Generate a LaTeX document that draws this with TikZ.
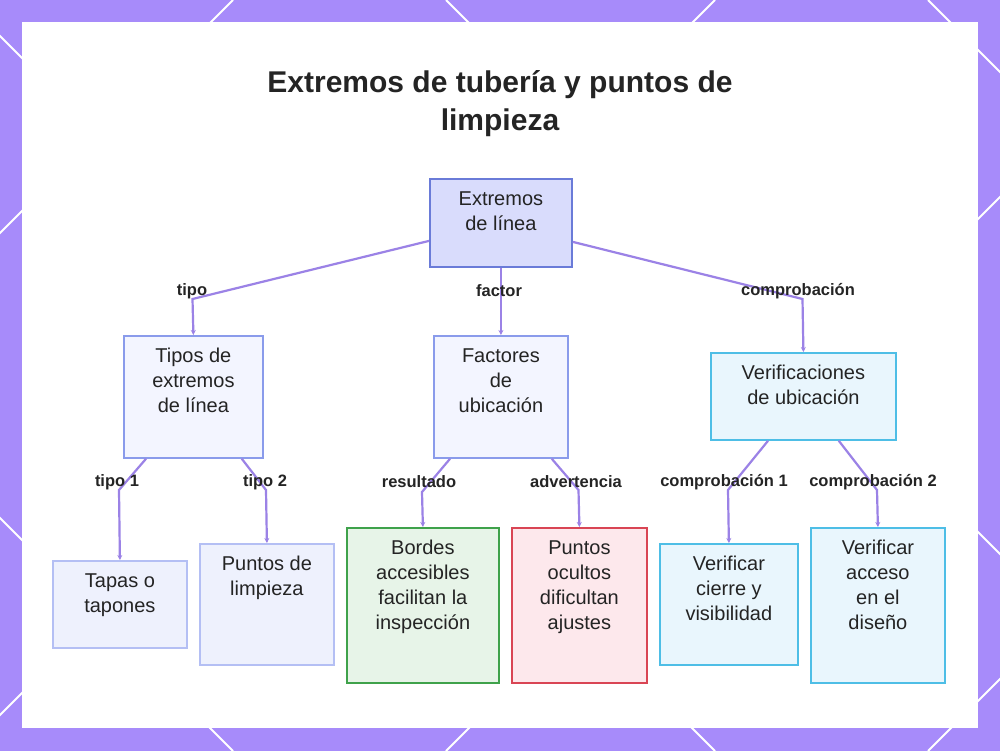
\documentclass[tikz,border=0pt]{standalone}
\usepackage{fontspec}
\setmainfont{Liberation Sans}
\usetikzlibrary{arrows.meta}
\definecolor{bgpurple}{HTML}{A78BFA}
\definecolor{edgec}{HTML}{9B82E6}
\definecolor{txt}{HTML}{242424}
\definecolor{rootfill}{HTML}{D9DCFC}
\definecolor{rootdraw}{HTML}{6A7BD8}
\definecolor{midfill}{HTML}{F3F5FF}
\definecolor{middraw}{HTML}{8A9BEB}
\definecolor{lowfill}{HTML}{EEF1FD}
\definecolor{lowdraw}{HTML}{B4BFF4}
\definecolor{cyfill}{HTML}{E9F6FD}
\definecolor{cydraw}{HTML}{4EBEE6}
\definecolor{grfill}{HTML}{E7F4E8}
\definecolor{grdraw}{HTML}{3FA24B}
\definecolor{rdfill}{HTML}{FDE8EC}
\definecolor{rddraw}{HTML}{D94554}
\newcommand{\bx}[7]{\node[#6, anchor=north west, inner sep=0pt] (#1) at (#2,#3) {\parbox[c][\dimexpr#5pt-#3pt\relax][t]{\dimexpr#4pt-#2pt\relax}{\centering\rule{0pt}{26.5pt}#7}};}
\tikzset{
  boxbase/.style={draw, line width=1.8pt, text=txt, font=\fontsize{20}{25}\selectfont},
  rootbox/.style={boxbase, fill=rootfill, draw=rootdraw},
  midbox/.style={boxbase, fill=midfill, draw=middraw},
  lowbox/.style={boxbase, fill=lowfill, draw=lowdraw},
  cybox/.style={boxbase, fill=cyfill, draw=cydraw},
  grbox/.style={boxbase, fill=grfill, draw=grdraw},
  rdbox/.style={boxbase, fill=rdfill, draw=rddraw},
  edge/.style={draw=edgec, line width=2.2pt, -{Stealth[length=5pt,width=5pt]}},
  elabel/.style={font=\bfseries\fontsize{16.5}{19}\selectfont, text=txt, inner sep=0pt},
  lattice/.style={draw=white, line width=2pt}
}
\begin{document}
\begin{tikzpicture}[x=1pt,y=-1pt]
\useasboundingbox (0,0) rectangle (1000,751);
\fill[bgpurple] (0,0) rectangle (1000,751);
\begin{scope}
\clip (0,0) rectangle (1000,751);
\foreach \c in {233,715,1197,1679} {\draw[lattice] (\c,0) -- ({\c-751},751);}
\foreach \d in {-518,-36,446,928} {\draw[lattice] (\d,0) -- ({\d+751},751);}
\end{scope}
\fill[white] (22,22) rectangle (978,728);

\node[font=\bfseries\fontsize{30}{38}\selectfont, text=txt, align=center] (title) at (500,104) {Extremos de tubería y puntos de\\limpieza};

\bx{root}{429}{178}{571}{266}{rootbox}{Extremos\\de línea}
\bx{tipos}{123}{335}{262}{457}{midbox}{Tipos de\\extremos\\de línea}
\bx{factores}{433}{335}{567}{457}{midbox}{Factores\\de\\ubicación}
\bx{verif}{710}{352}{895}{439}{cybox}{Verificaciones\\de ubicación}
\bx{tapas}{52}{560}{186}{647}{lowbox}{Tapas o\\tapones}
\bx{puntos}{199}{543}{333}{664}{lowbox}{Puntos de\\limpieza}
\bx{bordes}{346}{527}{498}{682}{grbox}{Bordes\\accesibles\\facilitan la\\inspección}
\bx{ocultos}{511}{527}{646}{682}{rdbox}{Puntos\\ocultos\\dificultan\\ajustes}
\bx{cierre}{659}{543}{797}{664}{cybox}{Verificar\\cierre y\\visibilidad}
\bx{acceso}{810}{527}{944}{682}{cybox}{Verificar\\acceso\\en el\\diseño}

\coordinate (k1) at (192.5,299);
\coordinate (k2) at (802.5,299);
\coordinate (k3) at (119,490);
\coordinate (k4) at (266,490);
\coordinate (k5) at (422,492);
\coordinate (k6) at (578.5,490);
\coordinate (k7) at (728,490);
\coordinate (k8) at (877,490);

\draw[edge] ([yshift=-18pt]root.west) -- (k1) -- (tipos.north);
\draw[edge] (root.south) -- (factores.north);
\draw[edge] ([yshift=-19pt]root.east) -- (k2) -- (verif.north);
\draw[edge] ([xshift=23pt]tipos.south west) -- (k3) -- (tapas.north);
\draw[edge] ([xshift=-22pt]tipos.south east) -- (k4) -- (puntos.north);
\draw[edge] ([xshift=17pt]factores.south west) -- (k5) -- (bordes.north);
\draw[edge] ([xshift=-17pt]factores.south east) -- (k6) -- (ocultos.north);
\draw[edge] ([xshift=58pt]verif.south west) -- (k7) -- (cierre.north);
\draw[edge] ([xshift=-58pt]verif.south east) -- (k8) -- (acceso.north);

\node[elabel] (l1) at (192,291) {tipo};
\node[elabel] (l2) at (499,291) {factor};
\node[elabel] (l3) at (798,291) {comprobación};
\node[elabel] (l4) at (117,482) {tipo 1};
\node[elabel] (l5) at (265,482) {tipo 2};
\node[elabel] (l6) at (419,482) {resultado};
\node[elabel] (l7) at (576,482) {advertencia};
\node[elabel] (l8) at (724,482) {comprobación 1};
\node[elabel] (l9) at (873,482) {comprobación 2};
\end{tikzpicture}
\end{document}
